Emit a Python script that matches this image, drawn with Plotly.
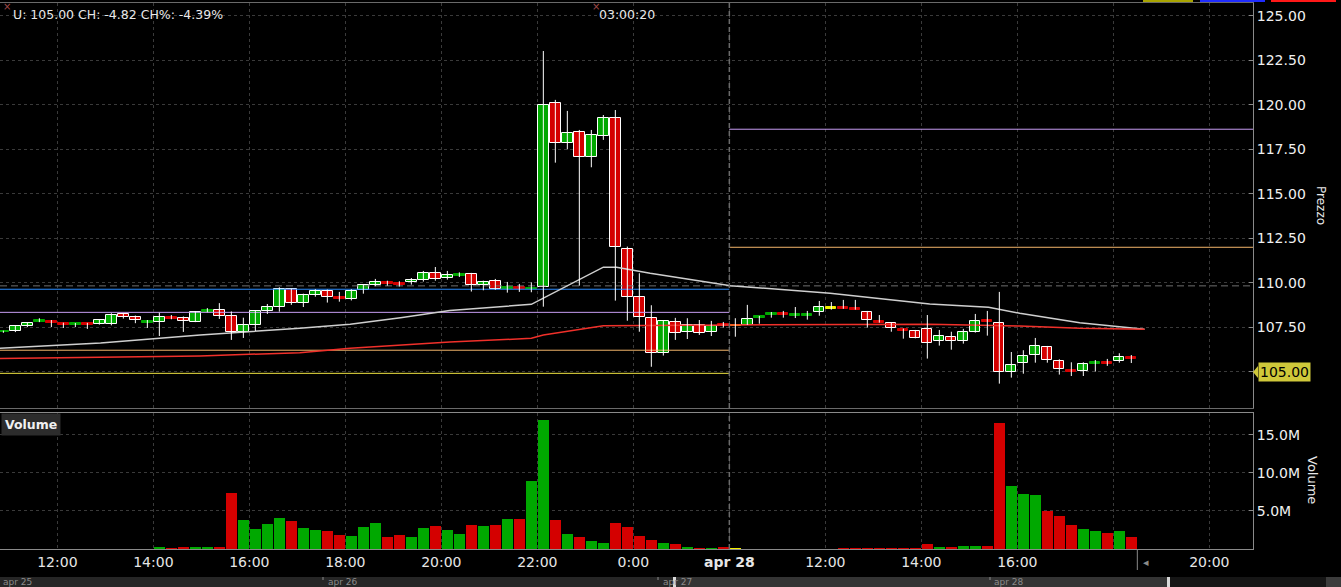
import plotly.graph_objects as go

# ---------------- data ----------------
first_slot = -5          # slot index of first 15-min bar (12:00 = slot 0)
session_break = 56       # slot where the apr 28 session starts

opens = [107.20,107.30,107.58,107.80,107.80,107.72,107.64,107.72,107.66,107.66,
         108.24,108.07,107.73,107.80,108.05,108.00,107.80,108.35,108.44,108.13,
         107.23,107.64,108.42,108.65,109.63,108.88,109.33,109.52,109.19,109.10,
         109.57,109.89,110.04,109.99,110.02,110.17,110.55,110.24,110.38,110.49,
         109.87,110.08,109.63,109.74,109.63,109.74,120.09,117.84,118.46,117.05,
         118.27,119.25,111.88,109.18,108.00,106.03,107.77,107.24,107.62,107.21,
         107.64,107.55,107.64,108.03,108.20,108.30,108.14,108.14,108.33,108.52,
         108.63,108.57,108.35,107.85,107.73,107.40,107.28,107.39,106.70,106.94,
         106.70,107.24,107.88,107.71,104.96,105.47,105.92,106.37,105.58,105.09,
         105.02,105.44,105.54,105.58,105.82]
highs = [107.30,107.56,107.75,108.00,107.90,107.75,107.73,107.74,107.90,108.28,
         108.26,108.15,107.90,108.31,108.18,108.10,108.40,108.57,108.85,108.38,
         108.03,108.42,108.80,109.74,109.66,109.38,109.63,109.61,109.48,109.63,
         109.87,110.21,110.11,110.08,110.26,110.66,110.88,110.66,110.58,110.55,
         110.11,110.21,110.04,109.93,110.02,123.03,120.28,119.66,118.59,118.59,
         119.43,119.71,112.03,110.53,108.73,107.90,108.02,108.00,107.90,107.85,
         107.79,108.00,108.75,108.13,108.35,108.41,108.63,108.41,108.97,108.91,
         109.03,109.03,108.41,108.18,107.75,107.42,107.34,108.18,107.34,107.24,
         107.40,108.24,108.41,109.48,106.10,106.20,106.89,106.44,105.69,105.52,
         105.52,105.65,105.71,106.03,105.93]
lows = [107.18,107.22,107.50,107.78,107.50,107.45,107.50,107.40,107.64,107.60,
        107.98,107.72,107.45,107.00,107.94,107.23,107.78,108.33,107.96,106.78,
        106.89,107.28,108.24,108.37,108.75,108.63,109.21,108.88,108.93,109.00,
        109.38,109.80,109.83,109.78,109.89,110.06,110.11,110.17,110.32,109.50,
        109.57,109.60,109.44,109.48,109.46,108.65,116.75,117.50,109.83,116.49,
        118.03,108.99,107.86,107.24,105.27,105.90,106.78,106.83,107.06,107.00,
        107.47,106.96,107.62,107.69,108.03,108.03,108.01,107.92,108.14,108.48,
        108.53,108.48,107.47,107.75,107.24,106.85,106.87,105.73,106.46,106.23,
        106.57,107.19,107.02,104.32,104.66,104.88,105.50,105.50,104.83,104.75,
        104.75,105.00,105.32,105.50,105.48]
closes = [107.28,107.55,107.73,107.88,107.73,107.64,107.72,107.64,107.88,108.18,
          108.09,107.88,107.81,108.05,107.96,107.86,108.33,108.46,108.11,107.24,
          107.62,108.40,108.63,109.65,108.88,109.31,109.53,109.21,109.10,109.52,
          109.85,110.04,109.93,109.88,110.17,110.55,110.22,110.43,110.49,109.89,
          110.04,109.63,109.74,109.63,109.70,120.01,117.84,118.40,117.05,118.29,
          119.25,111.99,109.18,108.05,106.03,107.83,107.15,107.62,107.15,107.56,
          107.56,107.55,107.96,108.13,108.30,108.20,108.24,108.24,108.62,108.52,
          108.53,108.48,107.88,107.75,107.43,107.30,106.87,106.59,107.00,106.70,
          107.21,107.82,107.77,104.96,105.35,105.86,106.42,105.64,105.13,105.00,
          105.41,105.54,105.44,105.80,105.73]
volume_m = [0,0,0,0,0,0,0,0,0,0,
            0,0,0,0.25,0.12,0.25,0.25,0.25,0.25,7.38,
            3.80,2.60,3.27,4.07,3.67,2.74,2.47,2.34,1.81,1.67,
            2.87,3.40,1.54,1.81,1.54,2.74,3.00,2.47,1.94,3.13,
            3.00,3.13,3.93,3.93,8.98,16.95,3.80,1.94,1.54,1.00,
            0.74,3.40,2.87,1.67,1.14,0.74,0.60,0.25,0.12,0.12,
            0.25,0.12,0,0,0,0,0,0,0,0,
            0.12,0.12,0.12,0.12,0.12,0.12,0.12,0.60,0.25,0.25,
            0.35,0.45,0.35,16.55,8.30,7.25,7.12,5.00,4.33,3.13,
            2.60,2.34,2.07,2.34,1.54]

# moving averages (slot position, value)
ma_white_x = [-4.8, 3.6, 11.9, 20.2, 24.4, 28.6, 32.7, 39.5, 45.5, 46.6, 49.4, 56.1, 64.4, 72.7, 77.6, 80.2, 85.2, 90.6]
ma_white_y = [106.31, 106.60, 107.06, 107.43, 107.66, 108.03, 108.44, 108.78, 110.87, 110.87, 110.53, 109.83, 109.40, 108.80, 108.62, 108.28, 107.75, 107.38]
ma_red_x = [-4.8, 7.7, 11.9, 20.2, 24.4, 32.7, 39.5, 40.5, 45.5, 56.1, 72.7, 80.2, 85.2, 90.6]
ma_red_y = [105.73, 105.84, 105.88, 106.06, 106.31, 106.66, 106.87, 107.06, 107.58, 107.62, 107.66, 107.56, 107.43, 107.38]

prev_close = 109.82
day1_levels = [109.63, 108.33, 106.20, 104.90]
day1_level_colors = ["#2b8cff", "#c79cf2", "#f2b46a", "#f0e442"]
day2_levels = [118.63, 111.99]
day2_level_colors = ["#c79cf2", "#f2b46a"]

x_tickvals = [0, 8, 16, 24, 32, 40, 48, 56, 64, 72, 80, 88, 96]
x_ticktext = ["12:00", "14:00", "16:00", "18:00", "20:00", "22:00", "0:00",
              "<b>apr 28</b>", "12:00", "14:00", "16:00", "", "20:00"]
price_ticks = [105.0, 107.5, 110.0, 112.5, 115.0, 117.5, 120.0, 122.5, 125.0]
vol_ticks = [5, 10, 15]
vol_ticktext = ["5.0M", "10.0M", "15.0M"]

header_text = "U: 105.00 CH: -4.82 CH%: -4.39%"
clock_text = "03:00:20"
last_price_text = "105.00"
last_price = 105.00

# ---------------- geometry ----------------
W, H = 1341, 587
ML, MR, MT, MB = 0, 88, 3, 38
PW, PH = W - ML - MR, H - MT - MB
X_RANGE = [-4.78, 99.64]
P_RANGE = [102.95, 125.73]
V_RANGE = [0, 17.87]

def pxx(px):
    return (px - ML) / PW

def pxy(py):
    return 1 - (py - MT) / PH

GREEN, RED, YEL = "#00a800", "#d40000", "#f4f000"
FONT = "DejaVu Sans"
n = len(opens)
xc = [first_slot + i + 0.5 for i in range(n)]
colors = [GREEN if c > o else (RED if c < o else YEL) for o, c in zip(opens, closes)]
body_base = [min(o, c) for o, c in zip(opens, closes)]
body_h = [max(abs(c - o), 0.09) for o, c in zip(opens, closes)]
body_line = ["#ffffff" if abs(c - o) >= 0.13 else col for o, c, col in zip(opens, closes, colors)]

wx, wy = [], []
for x, h, l in zip(xc, highs, lows):
    wx += [x, x, None]
    wy += [l, h, None]

fig = go.Figure()

# level lines
for lv, col in zip(day1_levels, day1_level_colors):
    fig.add_trace(go.Scatter(x=[X_RANGE[0], session_break], y=[lv, lv], mode="lines",
                             line=dict(color=col, width=1), hoverinfo="skip", xaxis="x", yaxis="y"))
for lv, col in zip(day2_levels, day2_level_colors):
    fig.add_trace(go.Scatter(x=[session_break, X_RANGE[1]], y=[lv, lv], mode="lines",
                             line=dict(color=col, width=1), hoverinfo="skip", xaxis="x", yaxis="y"))
fig.add_trace(go.Scatter(x=X_RANGE, y=[prev_close, prev_close], mode="lines",
                         line=dict(color="#6e6e6e", width=1, dash="7px,4px"), hoverinfo="skip"))

# moving averages
fig.add_trace(go.Scatter(x=ma_white_x, y=ma_white_y, mode="lines",
                         line=dict(color="#cfcfcf", width=1.5), hoverinfo="skip"))
fig.add_trace(go.Scatter(x=ma_red_x, y=ma_red_y, mode="lines",
                         line=dict(color="#f0302a", width=1.5), hoverinfo="skip"))

# wicks + bodies
fig.add_trace(go.Scatter(x=wx, y=wy, mode="lines", line=dict(color="#ffffff", width=1),
                         hoverinfo="skip", connectgaps=False))
fig.add_trace(go.Bar(x=xc, y=body_h, base=body_base, width=0.86,
                     marker=dict(color=colors, line=dict(color=body_line, width=1)),
                     xaxis="x", yaxis="y"))

# volume
fig.add_trace(go.Bar(x=xc, y=volume_m, width=0.9, marker=dict(color=colors, line=dict(width=0)),
                     xaxis="x2", yaxis="y2"))

price_ticktext = ["" if abs(v - last_price) < 1e-9 else f"{v:.2f}" for v in price_ticks]

grid = dict(showgrid=True, gridcolor="#3a3a3a", griddash="3px,3px", gridwidth=1)
fig.update_layout(
    width=W, height=H, margin=dict(l=ML, r=MR, t=MT, b=MB),
    paper_bgcolor="#000000", plot_bgcolor="#000000", showlegend=False,
    barmode="overlay", bargap=0,
    font=dict(family=FONT, color="#e6e6e6", size=14),
    xaxis=dict(range=X_RANGE, domain=[0, 1], anchor="y", tickvals=x_tickvals,
               showticklabels=False, zeroline=False, showline=True, mirror=True,
               linecolor="#6a6a6a", linewidth=1, **grid),
    xaxis2=dict(range=X_RANGE, domain=[0, 1], anchor="y2", tickvals=x_tickvals,
                ticktext=x_ticktext, zeroline=False, showline=True, mirror=True,
                linecolor="#8a8a8a", linewidth=1, ticks="",
                tickfont=dict(size=14, color="#e6e6e6", family=FONT), **grid),
    yaxis=dict(range=P_RANGE, domain=[pxy(408), 1], anchor="x", side="right",
               tickvals=price_ticks, ticktext=price_ticktext, ticks="inside", ticklen=4,
               tickcolor="#8a8a8a", showline=True, linecolor="#8a8a8a", zeroline=False,
               tickfont=dict(size=14, color="#f0f0f0", family=FONT), **grid),
    yaxis2=dict(range=V_RANGE, domain=[0, pxy(413)], anchor="x2", side="right",
                tickvals=vol_ticks, ticktext=vol_ticktext, ticks="inside", ticklen=4,
                tickcolor="#8a8a8a", showline=True, linecolor="#8a8a8a", zeroline=False,
                tickfont=dict(size=14, color="#f0f0f0", family=FONT), **grid),
)

shapes = []
# session separator
for yr in ("y domain", "y2 domain"):
    shapes.append(dict(type="line", xref="x", yref=yr, x0=session_break, x1=session_break,
                       y0=0, y1=1, line=dict(color="#6a6a6a", width=1.5, dash="5px,3px")))
# end-of-data marker below the axis
end_slot = first_slot + n + 1
shapes.append(dict(type="line", xref="x2", yref="paper", x0=end_slot - 1, x1=end_slot - 1,
                   y0=pxy(549), y1=pxy(570), line=dict(color="#8a8a8a", width=1)))
# top-right legend tabs
for x0, x1, col in [(1143, 1193, "#a8a400"), (1200, 1265, "#1f2cff"), (1271, 1336, "#ff1818")]:
    shapes.append(dict(type="rect", xref="paper", yref="paper", x0=pxx(x0), x1=pxx(x1),
                       y0=pxy(0), y1=pxy(2), line=dict(width=0), fillcolor=col))
# bottom navigator strip
nav = [(0, 673, "#262626"), (673, 676, "#d8d8d8"), (676, 1167, "#343434"),
       (1167, 1170, "#d8d8d8"), (1170, 1326, "#161616"), (1326, 1341, "#3c3c3c")]
for x0, x1, col in nav:
    shapes.append(dict(type="rect", xref="paper", yref="paper", x0=pxx(x0), x1=pxx(x1),
                       y0=pxy(587), y1=pxy(577), line=dict(width=0), fillcolor=col))
for xm in (323, 658, 990):
    shapes.append(dict(type="line", xref="paper", yref="paper", x0=pxx(xm), x1=pxx(xm),
                       y0=pxy(577), y1=pxy(580), line=dict(color="#8a8a8a", width=1)))
# last-price tag pointer
shapes.append(dict(type="path", xref="paper", yref="paper",
                   path=f"M {pxx(1253)},{pxy(372)} L {pxx(1258)},{pxy(366)} L {pxx(1258)},{pxy(378)} Z",
                   fillcolor="#cfc83a", line=dict(width=0)))
fig.update_layout(shapes=shapes)

ann = []
ann.append(dict(xref="paper", yref="paper", x=pxx(1), y=pxy(7), xanchor="left", yanchor="middle",
                text="×", showarrow=False, font=dict(size=10, color="#a04848", family=FONT)))
ann.append(dict(xref="paper", yref="paper", x=pxx(11), y=pxy(14), xanchor="left", yanchor="middle",
                text=header_text, showarrow=False, font=dict(size=12.5, color="#e8e8e8", family=FONT)))
ann.append(dict(xref="paper", yref="paper", x=pxx(590), y=pxy(7), xanchor="left", yanchor="middle",
                text="×", showarrow=False, font=dict(size=10, color="#a04848", family=FONT)))
ann.append(dict(xref="paper", yref="paper", x=pxx(597), y=pxy(14), xanchor="left", yanchor="middle",
                text=clock_text, showarrow=False, font=dict(size=12.5, color="#e8e8e8", family=FONT)))
ann.append(dict(xref="paper", yref="paper", x=pxx(1321), y=pxy(205), xanchor="center", yanchor="middle",
                text="Prezzo", textangle=90, showarrow=False, font=dict(size=12, color="#e8e8e8", family=FONT)))
ann.append(dict(xref="paper", yref="paper", x=pxx(1313), y=pxy(480), xanchor="center", yanchor="middle",
                text="Volume", textangle=90, showarrow=False, font=dict(size=13, color="#e8e8e8", family=FONT)))
ann.append(dict(xref="paper", yref="y", x=pxx(1258), y=last_price, xanchor="left", yanchor="middle",
                text=last_price_text, showarrow=False, bgcolor="#cfc83a", borderpad=1,
                font=dict(size=14, color="#000000", family=FONT)))
ann.append(dict(xref="paper", yref="paper", x=pxx(1), y=pxy(424), xanchor="left", yanchor="middle",
                text="<b>Volume</b>", showarrow=False, bgcolor="#2c2c2c", borderpad=3,
                font=dict(size=12.5, color="#f0f0f0", family=FONT)))
ann.append(dict(xref="paper", yref="paper", x=pxx(1146), y=pxy(562), xanchor="center", yanchor="middle",
                text="◂", showarrow=False, font=dict(size=11, color="#8a8a8a", family=FONT)))
for xl, txt in [(1, "apr 25"), (326, "apr 26"), (661, "apr 27"), (992, "apr 28")]:
    ann.append(dict(xref="paper", yref="paper", x=pxx(xl), y=pxy(582), xanchor="left", yanchor="middle",
                    text=txt, showarrow=False, font=dict(size=9, color="#8a8a8a", family=FONT)))
fig.update_layout(annotations=ann)

fig.write_html("out.html", config={"displayModeBar": False},
               post_script="document.body.style.margin='0';document.body.style.padding='0';")
